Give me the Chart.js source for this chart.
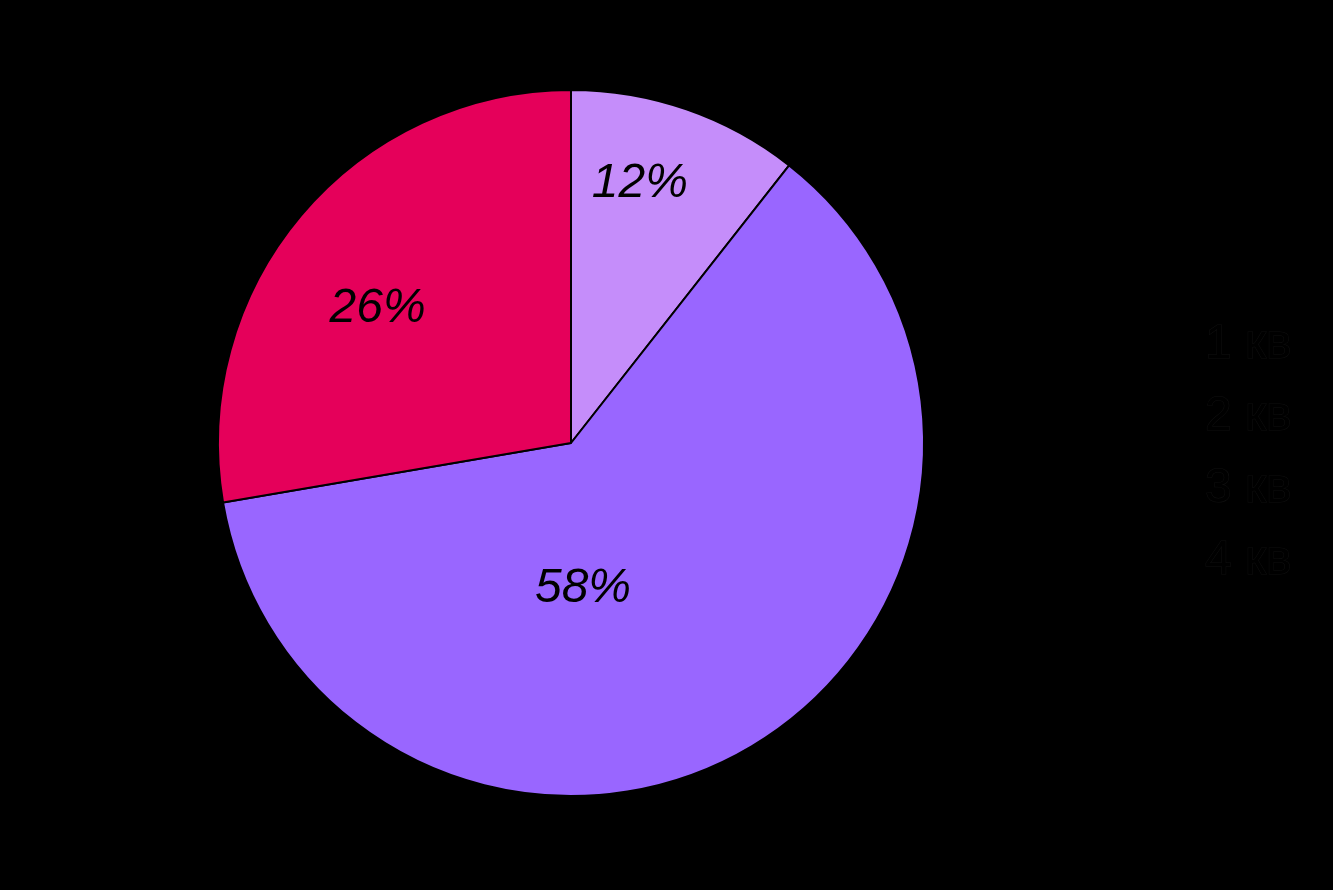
<!DOCTYPE html>
<html>
<head>
<meta charset="utf-8">
<script src="https://cdn.jsdelivr.net/npm/chart.js@4"></script>
<style>
  html, body { margin: 0; padding: 0; background: #000; }
</style>
</head>
<body>
<canvas id="myChart" width="1333" height="890"></canvas>
<script>
// data (share of the circle per slice)
var quarters = ['1 кв', '2 кв', '3 кв', '4 кв'];
var shares = [10.6, 61.7, 27.7, 0];
var pctLabels = ['12%', '58%', '26%', ''];
var sliceColors = ['#C58DFA', '#9966FF', '#E5005A', '#000000'];

// where each percent label sits, in units of the pie radius from the centre
var labelSpots = [[0.195, -0.734], [0.034, 0.412], [-0.548, -0.381], [0, 0]];

var pctPlugin = {
   id: 'pctLabels',
   afterDatasetsDraw: function(chart) {
      var ctx = chart.ctx;
      var arcs = chart.getDatasetMeta(0).data;
      ctx.save();
      ctx.font = 'italic 48px "Liberation Sans", Arial, sans-serif';
      ctx.fillStyle = '#000';
      ctx.textAlign = 'center';
      ctx.textBaseline = 'middle';
      arcs.forEach(function(arc, i) {
         if (!pctLabels[i]) return;
         var p = arc.getProps(['x', 'y', 'outerRadius'], true);
         ctx.fillText(pctLabels[i], p.x + labelSpots[i][0] * p.outerRadius, p.y + labelSpots[i][1] * p.outerRadius);
      });
      ctx.restore();
   }
};

// legend: black text on black, only a faint edge shows
var legendPlugin = {
   id: 'darkLegend',
   afterDraw: function(chart) {
      var ctx = chart.ctx;
      ctx.save();
      ctx.font = '48px "Liberation Sans", Arial, sans-serif';
      ctx.textAlign = 'left';
      ctx.textBaseline = 'alphabetic';
      ctx.lineWidth = 1;
      ctx.strokeStyle = '#101010';
      ctx.fillStyle = '#000';
      chart.data.labels.forEach(function(txt, i) {
         var y = 358 + i * 72;
         ctx.strokeText(txt, 1205, y);
         ctx.fillText(txt, 1205, y);
      });
      ctx.restore();
   }
};

const ctx = document.getElementById('myChart');
var chart = new Chart(ctx, {
   type: 'pie',
   data: {
      labels: quarters,
      datasets: [{
         data: shares,
         backgroundColor: sliceColors,
         borderColor: '#000',
         borderWidth: 2
      }]
   },
   options: {
      responsive: false,
      animation: false,
      layout: {
         padding: { top: 89, bottom: 93, left: 217, right: 408 }
      },
      plugins: {
         legend: { display: false },
         tooltip: { enabled: false }
      }
   },
   plugins: [pctPlugin, legendPlugin]
});
</script>
</body>
</html>
